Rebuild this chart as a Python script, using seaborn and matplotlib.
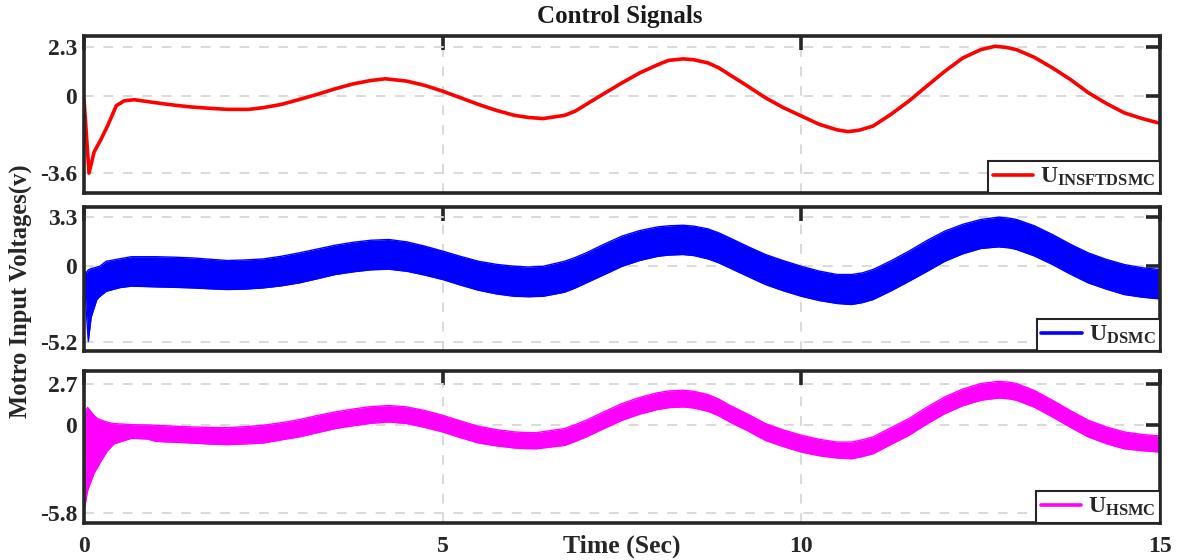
import numpy as np
import pandas as pd
import matplotlib
matplotlib.use('Agg')
import matplotlib.pyplot as plt
import seaborn as sns
from matplotlib.lines import Line2D

# ---------------- data ----------------
t_ins = [0, 0.07, 0.14, 0.24, 0.33, 0.45, 0.56, 0.7,
         1.0, 1.25, 1.5, 1.75, 2.0, 2.3, 2.5, 2.75,
         3.0, 3.25, 3.5, 3.75, 4.0, 4.2, 4.5, 4.75,
         5.0, 5.25, 5.5, 5.75, 6.0, 6.2, 6.4, 6.7,
         6.85, 7.0, 7.25, 7.5, 7.75, 8.0, 8.15, 8.35,
         8.5, 8.7, 8.85, 9.0, 9.25, 9.5, 9.75, 10.0,
         10.25, 10.5, 10.65, 10.8, 11.0, 11.25, 11.5, 11.75,
         12.0, 12.25, 12.5, 12.7, 12.85, 13.0, 13.25, 13.5,
         13.75, 14.0, 14.25, 14.5, 14.75, 15.0]
u_ins = [-0.15, -3.6, -2.62, -2.0, -1.38, -0.45, -0.22, -0.17,
         -0.31, -0.42, -0.51, -0.57, -0.62, -0.62, -0.54, -0.39,
         -0.16, 0.08, 0.34, 0.57, 0.73, 0.81, 0.70, 0.50,
         0.23, -0.08, -0.39, -0.67, -0.9, -1.0, -1.05, -0.9,
         -0.7, -0.39, 0.12, 0.62, 1.09, 1.47, 1.67, 1.74,
         1.70, 1.55, 1.32, 1.0, 0.47, -0.08, -0.54, -0.93,
         -1.32, -1.58, -1.66, -1.6, -1.4, -0.85, -0.23, 0.47,
         1.16, 1.78, 2.17, 2.33, 2.28, 2.17, 1.81, 1.32,
         0.78, 0.16, -0.34, -0.78, -1.05, -1.27]

t_dsmc = [0, 0.03, 0.06, 0.1, 0.14, 0.18, 0.22, 0.31,
          0.5, 0.66, 1.0, 1.25, 1.5, 1.75, 2.0, 2.25,
          2.5, 2.75, 3.0, 3.25, 3.5, 3.75, 4.0, 4.25,
          4.5, 4.75, 5.0, 5.25, 5.5, 5.75, 6.0, 6.2,
          6.4, 6.7, 6.85, 7.0, 7.25, 7.5, 7.75, 8.0,
          8.15, 8.35, 8.5, 8.7, 8.85, 9.0, 9.25, 9.5,
          9.75, 10.0, 10.25, 10.5, 10.7, 10.85, 11.0, 11.25,
          11.5, 11.75, 12.0, 12.25, 12.5, 12.75, 12.9, 13.0,
          13.25, 13.5, 13.75, 14.0, 14.25, 14.5, 14.75, 15.0]
u_dsmc_upper = [-0.3, -0.5, -0.3, -0.2, -0.16, -0.1, -0.05, 0.29,
                0.46, 0.6, 0.6, 0.57, 0.52, 0.43, 0.34, 0.38,
                0.45, 0.63, 0.86, 1.12, 1.38, 1.58, 1.72, 1.77,
                1.61, 1.32, 0.98, 0.62, 0.29, 0.08, -0.05, -0.1,
                -0.05, 0.29, 0.55, 0.86, 1.45, 2.0, 2.38, 2.63,
                2.7, 2.74, 2.68, 2.49, 2.22, 1.88, 1.3, 0.75,
                0.33, -0.05, -0.38, -0.61, -0.61, -0.5, -0.27, 0.32,
                0.98, 1.7, 2.34, 2.8, 3.13, 3.29, 3.22, 3.13,
                2.7, 2.11, 1.45, 0.86, 0.42, 0.07, -0.15, -0.27]
u_dsmc_lower = [-0.5, -3.0, -5.15, -3.5, -2.9, -2.3, -2.1, -1.75,
                -1.5, -1.4, -1.45, -1.48, -1.52, -1.58, -1.63, -1.6,
                -1.52, -1.38, -1.18, -0.9, -0.61, -0.43, -0.29, -0.25,
                -0.39, -0.65, -0.95, -1.33, -1.68, -1.93, -2.09, -2.12,
                -2.09, -1.81, -1.52, -1.18, -0.62, -0.05, 0.35, 0.63,
                0.71, 0.75, 0.68, 0.45, 0.18, -0.16, -0.73, -1.29,
                -1.72, -2.09, -2.38, -2.58, -2.65, -2.52, -2.31, -1.72,
                -1.07, -0.4, 0.29, 0.8, 1.16, 1.27, 1.2, 1.09,
                0.65, 0.07, -0.58, -1.18, -1.6, -1.97, -2.15, -2.27]

t_hsmc = [0, 0.05, 0.14, 0.19, 0.24, 0.33, 0.42, 0.66,
          0.89, 1.0, 1.25, 1.5, 1.75, 2.0, 2.25, 2.5,
          2.75, 3.0, 3.25, 3.5, 3.75, 4.0, 4.25, 4.5,
          4.75, 5.0, 5.25, 5.5, 5.75, 6.0, 6.15, 6.3,
          6.7, 6.85, 7.0, 7.25, 7.5, 7.75, 8.0, 8.15,
          8.35, 8.5, 8.7, 8.85, 9.0, 9.25, 9.5, 9.75,
          10.0, 10.25, 10.5, 10.7, 10.85, 11.0, 11.25, 11.5,
          11.75, 12.0, 12.25, 12.5, 12.75, 12.9, 13.0, 13.25,
          13.5, 13.75, 14.0, 14.25, 14.5, 14.75, 15.0]
u_hsmc_upper = [0.72, 1.14, 0.6, 0.39, 0.3, 0.15, 0.07, 0.0,
                -0.02, -0.04, -0.1, -0.15, -0.18, -0.2, -0.13, -0.04,
                0.13, 0.33, 0.6, 0.84, 1.03, 1.19, 1.26, 1.17,
                0.93, 0.62, 0.24, -0.11, -0.33, -0.48, -0.52, -0.53,
                -0.26, 0.0, 0.29, 0.85, 1.39, 1.8, 2.11, 2.22,
                2.27, 2.2, 1.98, 1.68, 1.28, 0.7, 0.07, -0.35,
                -0.7, -0.97, -1.15, -1.15, -1.0, -0.81, -0.2, 0.4,
                1.15, 1.83, 2.35, 2.71, 2.86, 2.8, 2.71, 2.25,
                1.61, 0.93, 0.29, -0.15, -0.48, -0.65, -0.75]
u_hsmc_lower = [-5.75, -4.34, -3.2, -2.8, -2.37, -1.7, -1.26, -0.9,
                -0.95, -1.1, -1.16, -1.21, -1.28, -1.32, -1.27, -1.21,
                -1.0, -0.81, -0.53, -0.26, -0.07, 0.09, 0.18, 0.07,
                -0.18, -0.48, -0.86, -1.21, -1.4, -1.54, -1.58, -1.59,
                -1.37, -1.1, -0.81, -0.25, 0.29, 0.7, 1.01, 1.12,
                1.17, 1.1, 0.88, 0.58, 0.18, -0.4, -1.04, -1.45,
                -1.81, -2.05, -2.2, -2.25, -2.1, -1.92, -1.3, -0.7,
                0.05, 0.73, 1.25, 1.61, 1.76, 1.7, 1.61, 1.15,
                0.51, -0.17, -0.81, -1.25, -1.59, -1.72, -1.81]

x_ticks = [0, 5, 10, 15]
x_ticklabels = ['0', '5', '10', '15']
yticks_ins = [-3.6, 0, 2.3]
yticklabels_ins = ['-3.6', '0', '2.3']
yticks_dsmc = [-5.2, 0, 3.3]
yticklabels_dsmc = ['-5.2', '0', '3.3']
yticks_hsmc = [-5.8, 0, 2.7]
yticklabels_hsmc = ['-5.8', '0', '2.7']

labels = [r'$\mathbf{U}_{\mathbf{INSFTDSMC}}$',
          r'$\mathbf{U}_{\mathbf{DSMC}}$',
          r'$\mathbf{U}_{\mathbf{HSMC}}$']
colors = ['#ff0000', '#0000ff', '#ff00ff']

# ---------------- style ----------------
sns.set_theme(style='white')
plt.rcParams['font.family'] = ['Liberation Serif', 'DejaVu Serif']
plt.rcParams['font.weight'] = 'bold'
plt.rcParams['mathtext.fontset'] = 'custom'
plt.rcParams['mathtext.bf'] = 'Liberation Serif:bold'
plt.rcParams['mathtext.rm'] = 'Liberation Serif:bold'
plt.rcParams['mathtext.it'] = 'Liberation Serif:bold'

fig = plt.figure(figsize=(11.78, 5.6), dpi=100)
L = 84 / 1178
W = (1160 - 84) / 1178
ax1 = fig.add_axes([L, 1 - 193 / 560, W, 157 / 560])
ax2 = fig.add_axes([L, 1 - 351 / 560, W, 144 / 560])
ax3 = fig.add_axes([L, 1 - 523 / 560, W, 152 / 560])

# top: smooth line
df_ins = pd.DataFrame({'t': t_ins, 'u': u_ins})
sns.lineplot(data=df_ins, x='t', y='u', ax=ax1, color=colors[0], lw=2.6,
             legend=False, estimator=None, sort=False)

# middle / bottom: chattering bands (envelopes)
for ax, t, up, lo, c in [(ax2, t_dsmc, u_dsmc_upper, u_dsmc_lower, colors[1]),
                         (ax3, t_hsmc, u_hsmc_upper, u_hsmc_lower, colors[2])]:
    d = pd.DataFrame({'t': t, 'up': up, 'lo': lo})
    sns.lineplot(data=d, x='t', y='up', ax=ax, color=c, lw=1.0, legend=False,
                 estimator=None, sort=False)
    sns.lineplot(data=d, x='t', y='lo', ax=ax, color=c, lw=1.0, legend=False,
                 estimator=None, sort=False)
    ax.fill_between(d['t'], d['lo'], d['up'], color=c, lw=0)

ylims = [(-4.53, 2.81), (-5.81, 3.98), (-6.49, 3.54)]
yts = [yticks_ins, yticks_dsmc, yticks_hsmc]
ytl = [yticklabels_ins, yticklabels_dsmc, yticklabels_hsmc]

for i, ax in enumerate([ax1, ax2, ax3]):
    ax.set_xlim(0, 15)
    ax.set_ylim(*ylims[i])
    ax.set_xticks(x_ticks)
    ax.set_yticks(yts[i])
    ax.set_yticklabels(ytl[i])
    if i < 2:
        ax.set_xticklabels([])
    else:
        ax.set_xticklabels(x_ticklabels)
    ax.set_xlabel('')
    ax.set_ylabel('')
    ax.grid(True, linestyle=(0, (5, 5)), color='#d9d9d9', lw=1.4)
    ax.set_axisbelow(True)
    for s in ax.spines.values():
        s.set_linewidth(2.6)
        s.set_color('#262626')
    ax.tick_params(axis='both', which='major', direction='in', length=10,
                   width=2.6, color='#262626', top=True, right=True,
                   labelsize=17, labelcolor='#262626')
    ax.tick_params(axis='y', pad=5)
    ax.tick_params(axis='x', pad=9)
    for lab in ax.get_xticklabels() + ax.get_yticklabels():
        lab.set_fontweight('bold')
    handle = Line2D([0], [0], color=colors[i], lw=2.6)
    leg = ax.legend([handle], [labels[i]], loc='lower right', borderaxespad=0,
                    frameon=True, fancybox=False, framealpha=1,
                    edgecolor='#262626', handlelength=1.7, handletextpad=0.3,
                    borderpad=0.2, fontsize=17)
    leg.get_frame().set_linewidth(1.5)

fig.text(0.5263, 0.970, 'Control Signals', ha='center', va='center',
         fontsize=18, fontweight='bold', color='#1a1a1a')
fig.text(0.528, 0.024, 'Time (Sec)', ha='center', va='center',
         fontsize=18.5, fontweight='bold', color='#262626')
fig.text(0.017, 0.48, 'Motro Input Voltages(v)', ha='center', va='center',
         rotation=90, fontsize=17.7, fontweight='bold', color='#262626')

fig.savefig('out.png', dpi=100)
